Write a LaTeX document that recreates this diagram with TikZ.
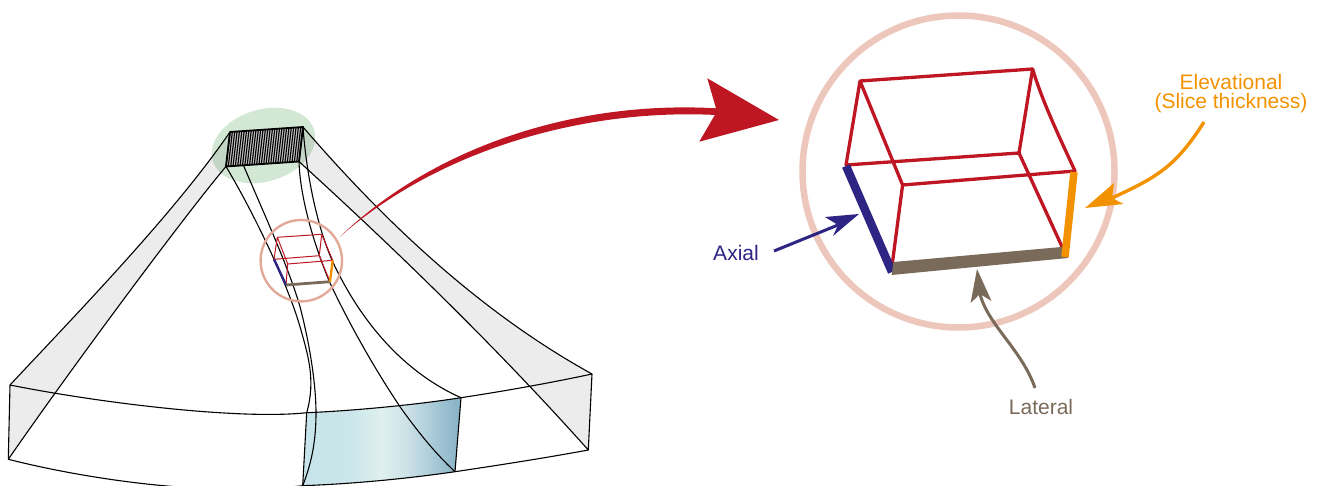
\documentclass[tikz,border=0pt]{standalone}
\usepackage{fontspec}
\setmainfont{Liberation Sans}
\usetikzlibrary{calc}
\definecolor{cred}{HTML}{BE1622}
\definecolor{cblue}{HTML}{2E2483}
\definecolor{cbrown}{HTML}{7A6A5A}
\definecolor{corange}{HTML}{F39200}
\definecolor{cring}{HTML}{EDC6BC}
\definecolor{cringb}{HTML}{E3A998}
\definecolor{cgreen}{HTML}{D3E7D5}
\definecolor{shadea}{HTML}{C6E4EA}
\definecolor{shadeb}{HTML}{CBE6EA}
\definecolor{shadec}{HTML}{DFF0EE}
\definecolor{shaded}{HTML}{CDE2E7}
\definecolor{shadee}{HTML}{AECEDA}
\definecolor{shadef}{HTML}{8CB5C9}
\pgfdeclarehorizontalshading{beamshade}{100bp}{
  color(0bp)=(shadea);
  color(25bp)=(shadea);
  color(40bp)=(shadeb);
  color(50bp)=(shadec);
  color(57.5bp)=(shaded);
  color(65bp)=(shadee);
  color(73.5bp)=(shadef);
  color(100bp)=(shadef)}
\begin{document}
\begin{tikzpicture}[x=1pt,y=-1pt,
  wire/.style={draw=black,line width=1.1pt,line join=round},
  side/.style={fill=black,fill opacity=.075,draw=none},
  edgebig/.style={draw=cred,line width=3.3pt,line cap=round,line join=round},
  edgesmall/.style={draw=cred,line width=1pt,line cap=round},
  lab/.style={inner sep=0pt,align=center,font=\fontsize{21}{19}\selectfont}]
  \useasboundingbox (0,0) rectangle (1318,486);
  % probe corners
  \coordinate (p1) at (230,132);
  \coordinate (p2) at (303,127);
  \coordinate (p3) at (299,161.5);
  \coordinate (p4) at (226,166.5);
  % ends of the sector
  \coordinate (tl) at (10,385);
  \coordinate (bl) at (8.3,459.3);
  \coordinate (tr) at (592,374);
  \coordinate (br) at (588.3,450);
  \coordinate (s1) at (306.7,412.7);
  \coordinate (s2) at (461,397.7);
  \coordinate (s3) at (455,471.7);
  \coordinate (s4) at (302.7,485.7);
  \fill[cgreen,rotate around={17:(263.5,145.5)}] (263.5,145.5) ellipse (53 and 36);
  \path[side] (p1) .. controls (175,212) and (85,305) .. (tl) -- (bl)
    .. controls (70,370) and (185,215) .. (p4) -- cycle;
  \path[side] (p2) .. controls (390,228) and (485,315) .. (tr) -- (br)
    .. controls (490,340) and (385,240) .. (p3) -- cycle;
  \shade[shading=beamshade] (s1) .. controls (350,411) and (415,405) .. (s2) -- (s3)
    .. controls (405,479) and (350,484) .. (s4) -- cycle;
  % sector outline
  \draw[wire] (p1) .. controls (175,212) and (85,305) .. (tl) -- (bl)
    .. controls (70,370) and (185,215) .. (p4);
  \draw[wire] (p2) .. controls (390,228) and (485,315) .. (tr) -- (br)
    .. controls (490,340) and (385,240) .. (p3);
  \draw[wire] (tl) .. controls (100,403) and (240,420) .. (s1)
    .. controls (350,411) and (415,405) .. (s2) .. controls (505,391) and (550,383) .. (tr);
  \draw[wire] (bl) .. controls (90,480) and (210,497) .. (s4)
    .. controls (350,484) and (405,479) .. (s3) .. controls (500,465) and (545,458) .. (br);
  \draw[wire] (s2) -- (s3);
  % beam
  \draw[wire] (p4) .. controls (255,215) and (288,285) .. (300,326.7)
    .. controls (308,355) and (316,380) .. (s1) -- (s4);
  \draw[wire] (p1) .. controls (248,180) and (285,255) .. (300,306.7)
    .. controls (310,345) and (316,385) .. (316,413) .. controls (316,440) and (312,462) .. (s4);
  \draw[wire] (p3) .. controls (300,195) and (312,240) .. (330,283)
    .. controls (345,315) and (370,362) .. (400,406.7) .. controls (420,435) and (438,456) .. (s3);
  \draw[wire] (p2) .. controls (306,170) and (316,225) .. (333.3,263)
    .. controls (365,330) and (410,375) .. (s2);
  % probe
  \fill[black!22] (p1) -- (p2) -- (p3) -- (p4) -- cycle;
  \foreach \t in {0,0.0323,...,1.01}
    \draw[line width=1.15pt] ($(p1)!\t!(p2)$) -- ($(p4)!\t!(p3)$);
  \draw[line width=1.8pt,line join=round] (p1) -- (p2) -- (p3) -- (p4) -- cycle;
  % small box
  \coordinate (a) at (277.3,237.3);
  \coordinate (b) at (321.7,234.3);
  \coordinate (c) at (274,259.3);
  \coordinate (d) at (319.3,255.7);
  \coordinate (e) at (287.7,264);
  \coordinate (f) at (332.7,260.3);
  \coordinate (g) at (286,285);
  \coordinate (h) at (330,281.7);
  \draw[cringb,line width=2.4pt] (301.3,260.7) circle (40.7);
  \draw[edgesmall] (a) -- (b) (a) -- (c) (a) -- (e) (b) -- (d) (b) -- (f) (c) -- (d) (e) -- (f) (e) -- (g) (d) -- (h);
  \draw[cblue,line width=2.4pt] (c) -- (g);
  \draw[cbrown,line width=2.8pt] (g) -- (h);
  \draw[corange,line width=2.4pt] (f) -- (h);
  % big red arrow
  \coordinate (rs) at (340,236.7);
  \coordinate (rn) at (716,113);
  \fill[cred] (rs) .. controls (430,150) and (570,100) .. (716,108.3)
    -- (707.3,78.3) -- (779,120) -- (699.3,141.7) -- (rn) -- (716,115)
    .. controls (575,108) and (432,155) .. (rs) -- cycle;
  % big box
  \coordinate (A) at (860,81);
  \coordinate (B) at (1032.6,69);
  \coordinate (C) at (846,165);
  \coordinate (D) at (1019,153);
  \coordinate (E) at (902.6,185);
  \coordinate (F) at (1075,171);
  \coordinate (G) at (892,266);
  \coordinate (H) at (1062.6,248);
  \draw[cring,line width=6.5pt] (958.5,171.5) circle (156);
  \draw[edgebig] (A) -- (B) (A) -- (C) (A) -- (E) (B) -- (D) (C) -- (D) (E) -- (F) (E) -- (G) (D) -- (H);
  \draw[edgebig] (B) .. controls (1042,100) and (1056,130) .. (F);
  \draw[cblue,line width=8.5pt] (846,166) -- (892,272);
  \fill[cbrown] (891.6,275) -- (893.5,262) -- (1061.4,247) -- (1068,258) -- cycle;
  \draw[corange,line width=7.5pt] (1074,172) -- (1065,257);
  % labels with their arrows
  \node[lab,text=cblue] (axial) at (736,253) {Axial};
  \node[lab,text=corange] (elev) at (1231,93.5) {Elevational\\(Slice thickness)};
  \node[lab,text=cbrown] (lateral) at (1041,407) {Lateral};
  \coordinate (as) at (774,251);
  \coordinate (an) at (838,225);
  \draw[cblue,line width=3pt] (as) -- (an);
  \fill[cblue] (859,214) -- (825,217) -- (an) -- (833,236) -- cycle;
  \coordinate (es) at (1204,122);
  \coordinate (en) at (1112,198);
  \draw[corange,line width=3.4pt] (es) .. controls (1175,168) and (1155,178) .. (en);
  \fill[corange] (1085,208) -- (1114,183) -- (en) -- (1123.5,204) -- cycle;
  \coordinate (ls) at (1035,388);
  \coordinate (ln) at (980,294);
  \draw[cbrown,line width=3pt] (ls) .. controls (1022,350) and (988,325) .. (ln);
  \fill[cbrown] (977,269) -- (970.6,303) -- (ln) -- (991.5,301) -- cycle;
\end{tikzpicture}
\end{document}
